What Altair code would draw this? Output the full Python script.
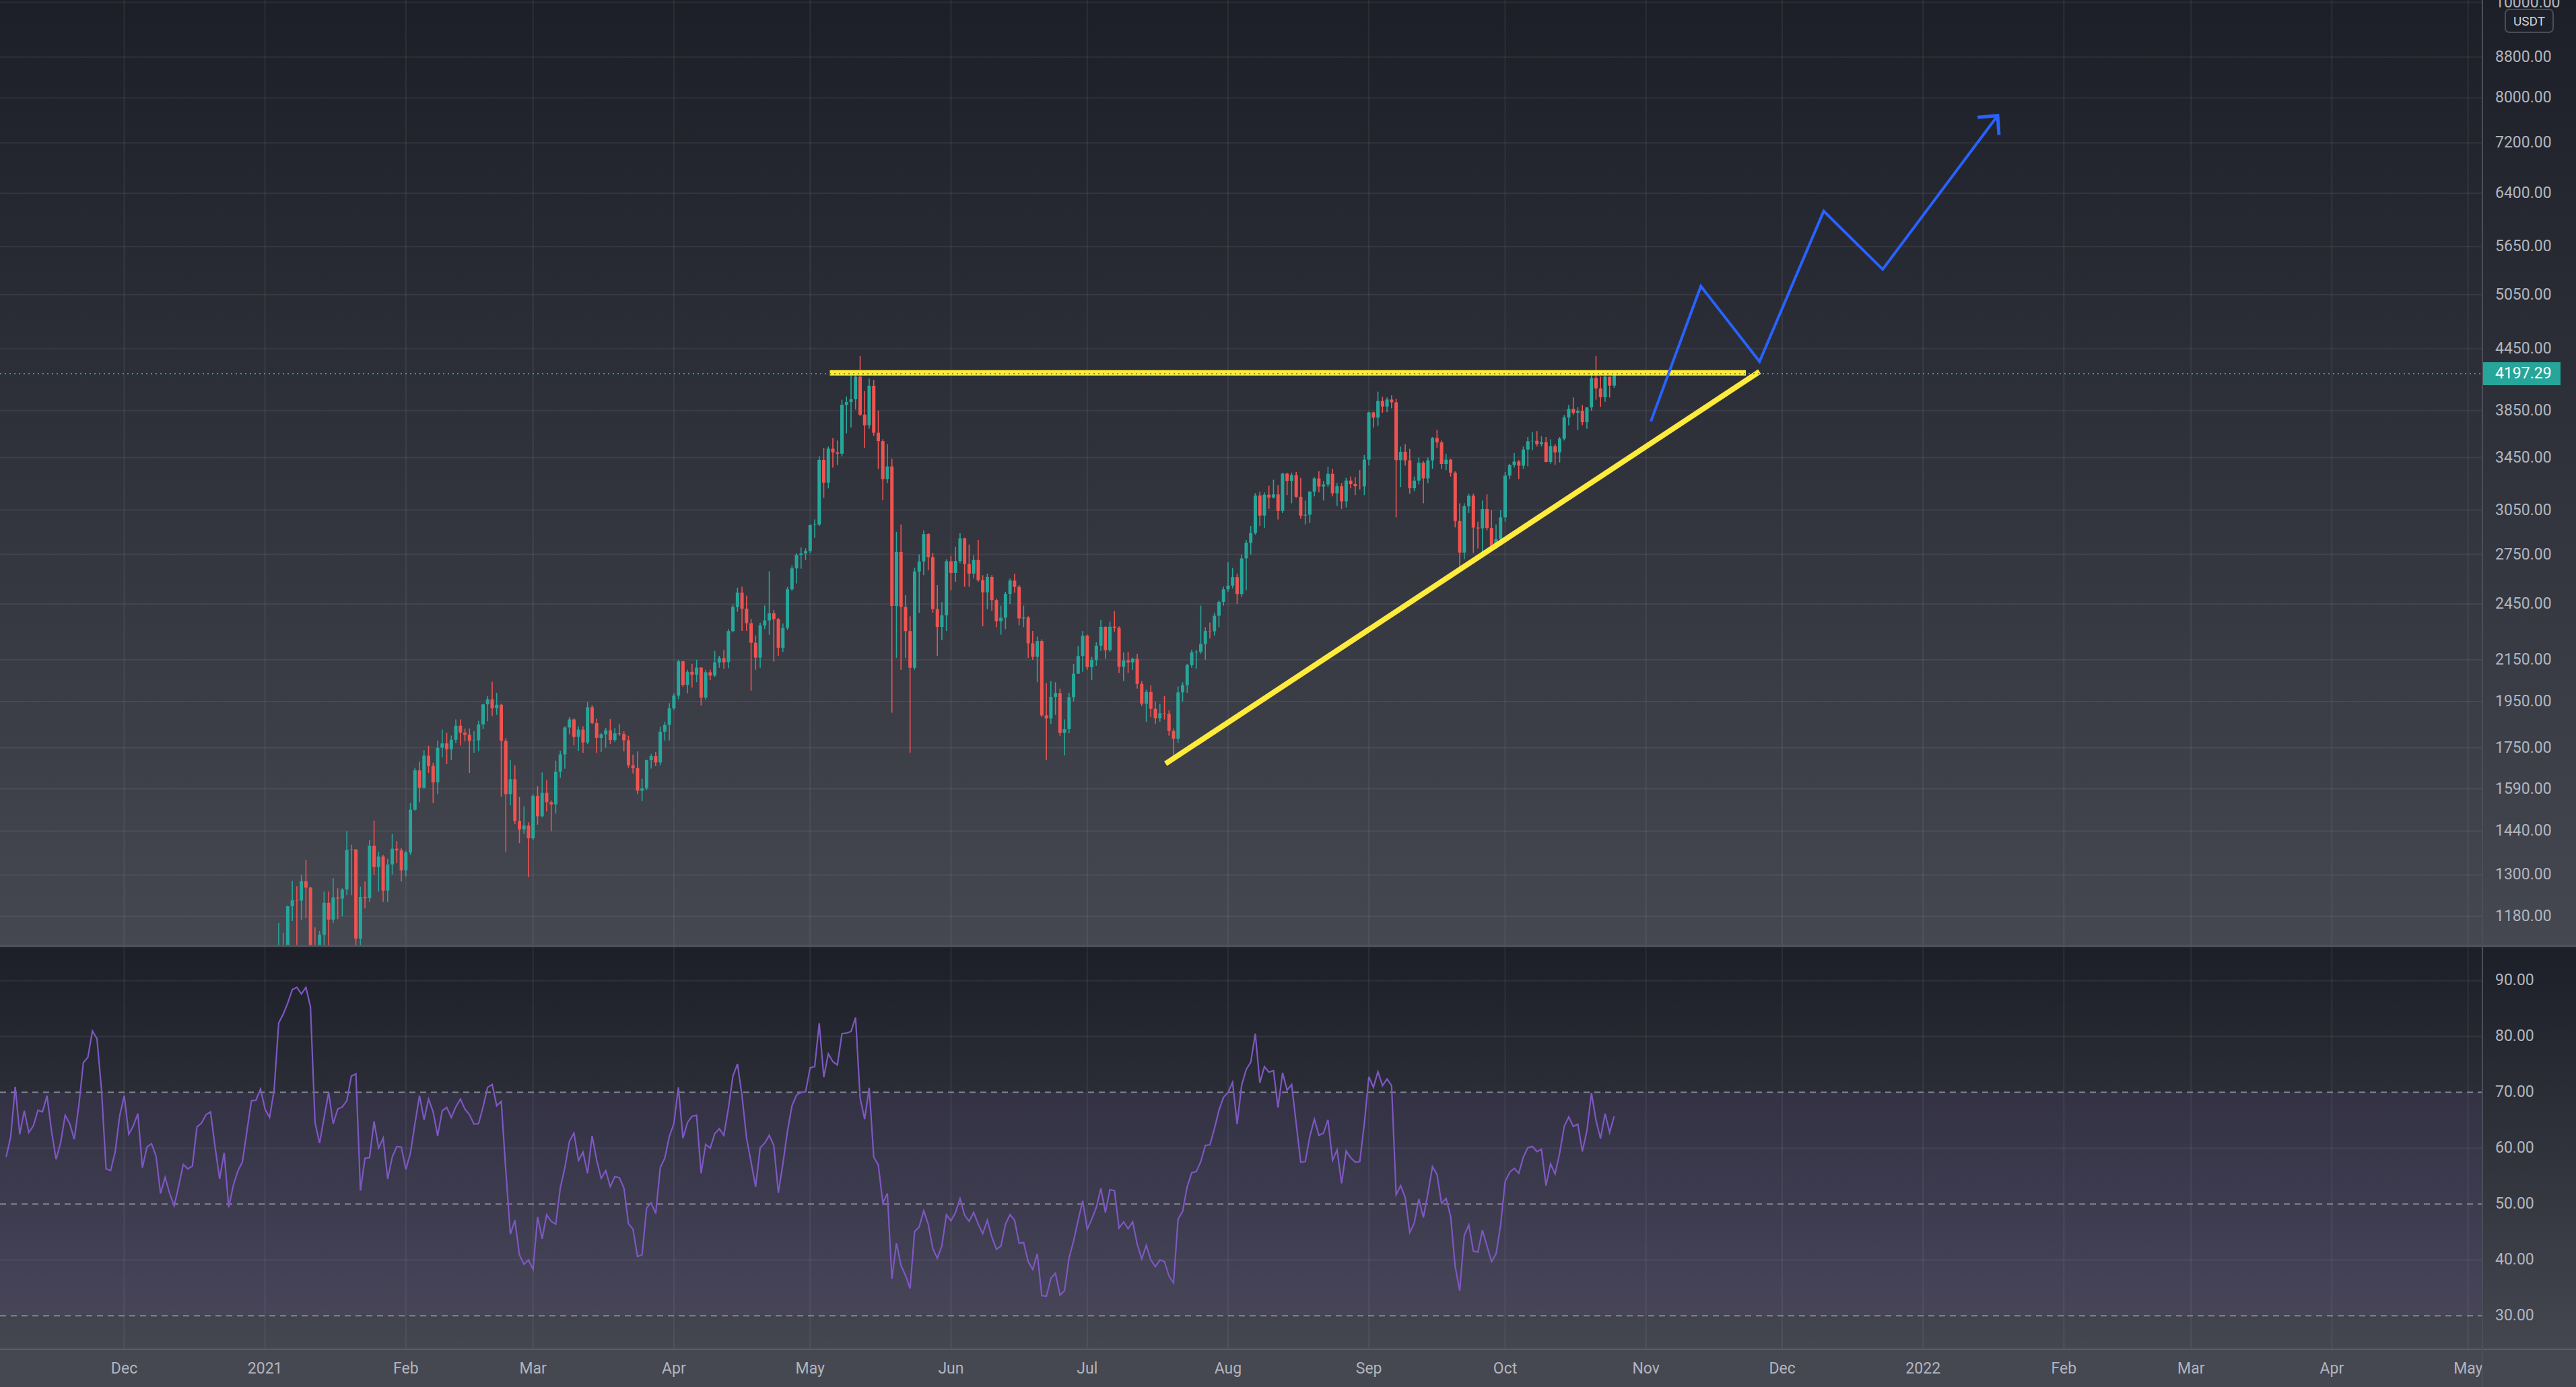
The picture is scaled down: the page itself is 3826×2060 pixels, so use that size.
import altair as alt
import pandas as pd
import numpy as np

# ======================= DATA =======================
quote_unit = "USDT"
first_open = 737.0
candle_start = "2021-01-01"

# daily closes / highs / lows per month (2021)
c_jan = [730, 775, 978, 1041, 1100, 1208, 1225, 1224, 1281, 1262, 1090, 1043, 1130, 1218, 1171, 1233,
         1230, 1256, 1378, 1380, 1120, 1235, 1231, 1392, 1324, 1357, 1253, 1332, 1382, 1377, 1314]
h_jan = [749, 787, 1011, 1162, 1135, 1210, 1282, 1266, 1300, 1347, 1264, 1150, 1140, 1250, 1250, 1290,
         1260, 1260, 1440, 1395, 1380, 1265, 1280, 1410, 1476, 1373, 1362, 1350, 1430, 1407, 1385]
l_jan = [714, 714, 768, 890, 986, 1064, 1167, 1100, 1170, 1175, 915, 1007, 1030, 1100, 1070, 1161,
         1172, 1180, 1240, 1240, 1100, 1030, 1202, 1220, 1300, 1250, 1220, 1220, 1301, 1336, 1280]

c_feb = [1370, 1514, 1660, 1594, 1718, 1677, 1614, 1750, 1768, 1744, 1783, 1843, 1813, 1804, 1779, 1781,
         1848, 1937, 1960, 1919, 1935, 1779, 1570, 1626, 1475, 1446, 1459, 1416]
h_feb = [1375, 1538, 1670, 1695, 1740, 1758, 1690, 1780, 1826, 1812, 1801, 1870, 1870, 1830, 1830, 1820,
         1864, 1940, 1975, 2042, 1990, 1940, 1790, 1700, 1680, 1560, 1526, 1470]
l_feb = [1295, 1362, 1510, 1541, 1590, 1650, 1538, 1570, 1712, 1685, 1700, 1770, 1760, 1776, 1650, 1730,
         1736, 1828, 1862, 1884, 1890, 1560, 1371, 1530, 1464, 1400, 1430, 1293]

c_mar = [1564, 1491, 1575, 1541, 1533, 1655, 1723, 1835, 1870, 1795, 1826, 1772, 1924, 1854, 1791, 1806,
         1823, 1782, 1810, 1807, 1781, 1680, 1669, 1583, 1592, 1700, 1716, 1691, 1817, 1846, 1919]
h_mar = [1570, 1600, 1652, 1622, 1547, 1698, 1738, 1840, 1880, 1875, 1840, 1840, 1947, 1934, 1873, 1811,
         1833, 1872, 1832, 1850, 1820, 1800, 1722, 1735, 1628, 1702, 1725, 1733, 1838, 1860, 1943]
l_mar = [1410, 1462, 1488, 1508, 1440, 1500, 1632, 1666, 1806, 1760, 1737, 1730, 1765, 1849, 1730, 1733,
         1750, 1766, 1774, 1800, 1735, 1670, 1648, 1570, 1545, 1585, 1667, 1676, 1680, 1780, 1780]

c_apr = [1977, 2142, 2027, 2090, 2076, 2111, 1968, 2088, 2072, 2136, 2158, 2138, 2299, 2432, 2515, 2423,
         2342, 2237, 2161, 2330, 2357, 2397, 2364, 2211, 2316, 2535, 2662, 2747, 2757, 2773]
h_apr = [1989, 2150, 2145, 2100, 2130, 2150, 2112, 2100, 2100, 2195, 2170, 2200, 2310, 2447, 2545, 2550,
         2497, 2365, 2275, 2345, 2441, 2644, 2415, 2370, 2340, 2550, 2680, 2760, 2797, 2790]
l_apr = [1912, 1960, 2018, 1988, 2015, 2040, 1932, 1958, 2050, 2064, 2110, 2105, 2108, 2292, 2405, 2300,
         2300, 2000, 2100, 2110, 2310, 2280, 2140, 2170, 2190, 2305, 2525, 2570, 2660, 2715]

c_may = [2945, 2949, 3431, 3253, 3522, 3492, 3481, 3902, 3928, 3953, 4168, 3814, 3720, 4080, 3656, 3585,
         3280, 3379, 2438, 2766, 2433, 2299, 2110, 2643, 2705, 2885, 2733, 2421, 2322, 2385, 2707]
h_may = [2950, 2985, 3460, 3530, 3540, 3610, 3590, 3950, 3980, 4200, 4185, 4372, 4030, 4150, 4135, 3850,
         3600, 3560, 3440, 2900, 2950, 2500, 2380, 2665, 2750, 2910, 2890, 2760, 2560, 2460, 2720]
l_may = [2760, 2860, 2940, 3140, 3210, 3370, 3390, 3460, 3650, 3700, 3860, 3800, 3530, 3690, 3630, 3360,
         3122, 3250, 1900, 2160, 2100, 2160, 1730, 2100, 2400, 2620, 2650, 2400, 2170, 2250, 2300]

c_jun = [2634, 2709, 2856, 2689, 2630, 2715, 2590, 2517, 2609, 2472, 2353, 2372, 2508, 2587, 2549, 2368,
         2373, 2234, 2165, 2246, 1888, 1874, 1971, 1989, 1812, 1828, 1970, 2081, 2169, 2275]
h_jun = [2740, 2800, 2890, 2860, 2815, 2745, 2845, 2620, 2630, 2620, 2480, 2440, 2520, 2600, 2630, 2560,
         2440, 2380, 2300, 2270, 2255, 2035, 2045, 2040, 2010, 1870, 1990, 2130, 2220, 2300]
l_jun = [2530, 2580, 2695, 2550, 2550, 2600, 2580, 2325, 2420, 2410, 2320, 2280, 2310, 2450, 2515, 2330,
         2320, 2160, 2150, 2040, 1880, 1700, 1850, 1890, 1800, 1719, 1810, 1950, 2080, 2090]

c_jul = [2113, 2149, 2222, 2322, 2198, 2323, 2316, 2115, 2146, 2137, 2155, 2032, 1940, 1994, 1917, 1875,
         1897, 1895, 1820, 1787, 1992, 2026, 2123, 2187, 2191, 2231, 2300, 2298, 2383, 2461, 2535]
h_jul = [2280, 2165, 2240, 2360, 2325, 2350, 2410, 2325, 2186, 2190, 2160, 2180, 2045, 2005, 2025, 1950,
         1940, 1975, 1910, 1830, 2020, 2040, 2130, 2200, 2200, 2440, 2320, 2345, 2400, 2470, 2550]
l_jul = [2100, 2050, 2120, 2195, 2155, 2190, 2295, 2085, 2045, 2085, 2100, 2010, 1930, 1860, 1880, 1850,
         1860, 1870, 1800, 1718, 1770, 1950, 1990, 2110, 2105, 2180, 2150, 2260, 2275, 2320, 2440]

c_aug = [2557, 2608, 2507, 2725, 2827, 2891, 3157, 3012, 3163, 3142, 3165, 3045, 3322, 3266, 3310, 3147,
         3012, 3018, 3185, 3285, 3224, 3239, 3321, 3173, 3226, 3114, 3269, 3242, 3226, 3225, 3433]
h_aug = [2700, 2665, 2630, 2750, 2845, 2940, 3175, 3185, 3180, 3230, 3275, 3235, 3330, 3330, 3330, 3335,
         3290, 3120, 3190, 3295, 3340, 3265, 3375, 3360, 3250, 3250, 3290, 3300, 3295, 3350, 3470]
l_aug = [2520, 2540, 2450, 2490, 2530, 2750, 2880, 2940, 2925, 3060, 3135, 2985, 3030, 3160, 3100, 3140,
         2990, 2950, 2960, 3150, 3180, 3120, 3220, 3150, 3080, 3060, 3070, 3210, 3160, 3200, 3160]

c_sep = [3834, 3787, 3938, 3887, 3951, 3926, 3429, 3497, 3427, 3211, 3269, 3408, 3286, 3427, 3611, 3574,
         3399, 3433, 3330, 2974, 2762, 3078, 3155, 2929, 2923, 3059, 2926, 2806, 2850, 3000]
h_sep = [3840, 3840, 4025, 3975, 3970, 3990, 3960, 3540, 3560, 3520, 3300, 3450, 3420, 3450, 3620, 3680,
         3590, 3480, 3440, 3340, 3100, 3100, 3170, 3170, 2970, 3120, 3165, 3050, 2950, 3050]
l_sep = [3385, 3700, 3715, 3830, 3835, 3870, 3000, 3220, 3385, 3170, 3190, 3240, 3100, 3250, 3360, 3530,
         3360, 3350, 3300, 2930, 2650, 2720, 3030, 2760, 2790, 2740, 2910, 2785, 2790, 2840]

c_oct = [3307, 3389, 3418, 3385, 3515, 3584, 3587, 3560, 3575, 3415, 3543, 3492, 3605, 3789, 3865, 3830,
         3849, 3747, 3879, 4155, 4055, 3972, 4167, 4082, 4197.29]
h_oct = [3335, 3400, 3485, 3430, 3540, 3620, 3660, 3670, 3625, 3620, 3600, 3560, 3620, 3810, 3900, 3970,
         3880, 3900, 3880, 4185, 4375, 4170, 4180, 4170, 4222]
l_oct = [2970, 3280, 3370, 3280, 3360, 3380, 3510, 3540, 3540, 3410, 3400, 3390, 3410, 3590, 3720, 3810,
         3680, 3720, 3690, 3850, 3950, 3885, 3930, 3970, 4060]

# RSI(14), daily from 2020-11-05
rsi_start = "2020-11-05"
rsi_nov_mar = [58.4, 62, 71, 62.5, 66.7, 62.8, 64, 66.8, 66.5, 69.4,
               63, 58, 61, 65.9, 64.4, 61.6, 67.6, 75.3, 76.3, 81,
               79.6, 70.4, 56.3, 56, 59.3, 65.8, 69.4, 62.5, 64, 66.2,
               56.5, 60.2, 60.8, 58.6, 51.9, 54.8, 51.9, 49.7, 53.3, 57.1,
               56.3, 56.8, 63.8, 64.5, 66, 66.5, 60.2, 54.5, 59.2, 49.4,
               53.3, 55.9, 57.5, 63, 68.5, 68.6, 70.6, 67, 65.5, 70.4,
               82.4, 84, 86, 88.4, 88.8, 87.6, 88.8, 85.3, 64.6, 60.9,
               65.5, 70, 64.4, 67, 67.4, 68.5, 72.9, 73.3, 52.4, 58.2,
               58.3, 64.8, 60, 61.8, 54.5, 58.4, 60.3, 60.2, 56.2, 59.1,
               64.4, 69.4, 65.1, 68.8, 66.5, 62.2, 66.7, 67.3, 65.5, 67.4,
               68.8, 67, 66, 64.3, 64.4, 67.4, 70.9, 71.4, 67.6, 68.4,
               56, 44.6, 47.1, 40.9, 39.2, 40, 38.3, 47.7, 43.8, 48.1,
               46.9, 46.4]
rsi_mar_jul = [52.9, 56.5, 61.2, 62.7, 57.8, 59.3, 55.5, 62.2, 57.9, 54.6,
               56, 53.1, 54.9, 54.7, 52.9, 46.5, 45.5, 40.6, 40.9, 49.3,
               50.2, 48.3, 56.5, 58.2, 62.1, 64.4, 70.9, 61.8, 64.6, 65.7,
               65.9, 55.5, 60.7, 60, 62.6, 63.5, 62.3, 67.1, 72.9, 75.1,
               69.4, 61.8, 57.5, 53.1, 60.1, 60.9, 62.3, 60.5, 52, 57.2,
               63, 67.6, 69.5, 70, 70.1, 74.4, 74.6, 82.4, 72.7, 76.9,
               75.5, 74.9, 80.5, 80.6, 80.9, 83.4, 69, 65.2, 70.8, 58.4,
               57, 50.2, 51.9, 36.6, 43, 39, 37.2, 34.9, 45.1, 45.9,
               48.8, 46.4, 42, 40.3, 42.5, 48.1, 47, 48.5, 51, 48,
               46.9, 48.5, 46.4, 44.7, 47.1, 44.1, 41.9, 42.5, 46.4, 48.1,
               47.1, 43, 43.1, 39.7, 38.3, 41.1, 33.6, 33.5, 36.7, 37.6,
               33.7, 34.5, 40.4, 43.4, 47.1, 50.6, 45.5, 47.3]
rsi_jul_oct = [49.4, 52.8, 48.5, 52.6, 52.4, 45.7, 46.8, 45.6, 46.8, 42.8,
               40.2, 42.6, 40, 38.8, 40, 39.7, 37.1, 35.9, 47.3, 48.7,
               53.1, 55.6, 55.8, 57.6, 60.5, 60.6, 63.5, 66.8, 69.1, 70,
               71.8, 64.3, 71.3, 74.1, 75.4, 80.5, 71.7, 74.6, 73.6, 73.9,
               67.3, 73.5, 70.4, 71.4, 64.4, 57.5, 57.6, 62.1, 65.2, 62.3,
               62.7, 65.1, 57.8, 59.7, 53.7, 59.5, 58.3, 57.5, 57.6, 64.4,
               72.8, 70.9, 73.7, 71.2, 72.4, 71.2, 51.7, 53.3, 51.2, 44.9,
               46.6, 50.9, 47.6, 51.9, 56.7, 55.3, 50.1, 51, 47.8, 38.8,
               34.5, 44.4, 46.3, 41.6, 41.4, 45.3, 42.5, 39.7, 41.1, 46.2,
               54, 55.7, 56.4, 55.5, 58.4, 60.1, 60.3, 59.4, 59.8, 53.3,
               57.2, 55.4, 59.1, 63.9, 65.6, 63.9, 64.3, 59.4, 63.1, 69.9,
               65, 61.7, 66.2, 62.8, 65.7]

# axis ticks / labels
price_ticks = [10000, 8800, 8000, 7200, 6400, 5650, 5050, 4450, 3850, 3450,
               3050, 2750, 2450, 2150, 1950, 1750, 1590, 1440, 1300, 1180]
rsi_ticks = [90, 80, 70, 60, 50, 40, 30]
rsi_grid_levels = [90, 80, 60, 40]
rsi_levels = [70, 50, 30]
month_ticks = ["2020-12-01", "2021-01-01", "2021-02-01", "2021-03-01", "2021-04-01", "2021-05-01",
               "2021-06-01", "2021-07-01", "2021-08-01", "2021-09-01", "2021-10-01", "2021-11-01",
               "2021-12-01", "2022-01-01", "2022-02-01", "2022-03-01", "2022-04-01", "2022-05-01"]
month_labels = ["Dec", "2021", "Feb", "Mar", "Apr", "May", "Jun", "Jul", "Aug", "Sep", "Oct", "Nov",
                "Dec", "2022", "Feb", "Mar", "Apr", "May"]
last_price = 4197.29

# drawings
res_dates = ["2021-05-05T08:00:00Z", "2021-11-23T00:00:00Z"]
res_prices = [4205, 4205]
sup_dates = ["2021-07-18T06:00:00Z", "2021-11-26T00:00:00Z"]
sup_prices = [1686, 4218]
proj_dates = ["2021-11-02T02:00:00Z", "2021-11-13T02:00:00Z", "2021-11-26T00:00:00Z",
              "2021-12-10T03:00:00Z", "2021-12-23T03:00:00Z", "2022-01-17T10:00:00Z"]
proj_prices = [3754, 5151, 4318, 6138, 5357, 7674]
arrow_dates = ["2022-01-13T00:00:00Z", "2022-01-17T10:00:00Z", "2022-01-17T17:00:00Z"]
arrow_prices = [7643, 7674, 7336]

# ======================= LAYOUT / STYLE =======================
TOTAL_W, TOTAL_H = 3826, 2060
W = 3687          # plot width (price axis to the right)
Y_MAIN = 1405     # bottom of price pane
H = 2004          # bottom of RSI pane
FONT = "Roboto"
FS = 23
LABEL_C = "#b2b5be"
GREEN, RED = "#26a69a", "#ef5350"
YELLOW, BLUE, PURPLE = "#ffeb3b", "#2962ff", "#7e57c2"
GRID_C = "#ffffff"
GRID_OP = 0.065


def ms(s):
    return int(pd.Timestamp(s).value // 10**6)


xscale = alt.Scale(type="utc", domain=[ms("2020-11-04T09:24:00Z"), ms("2022-05-03T09:36:00Z")], nice=False)
pscale = alt.Scale(type="log", domain=[1100.9, 10056.8], range=[Y_MAIN, 0], clamp=True, nice=False)
rscale = alt.Scale(type="linear", domain=[24.0, 96.2], range=[H, Y_MAIN], zero=False, nice=False)


def X(f="date"):
    return alt.X(f"{f}:T", scale=xscale, axis=None)


def PY(f="price"):
    return alt.Y(f"{f}:Q", scale=pscale, axis=None)


def RY(f="rsi"):
    return alt.Y(f"{f}:Q", scale=rscale, axis=None)


one = pd.DataFrame({"k": [0]})


def grad(top, bot):
    return alt.LinearGradient(gradient="linear", x1=0, x2=0, y1=0, y2=1,
                              stops=[alt.GradientStop(color=top, offset=0),
                                     alt.GradientStop(color=bot, offset=1)])


def rect(x0, x1, y0, y1, color):
    return alt.Chart(one).mark_rect(color=color).encode(
        x=alt.value(x0), x2=alt.value(x1), y=alt.value(y0), y2=alt.value(y1))


# ======================= FRAMES =======================
close = c_jan + c_feb + c_mar + c_apr + c_may + c_jun + c_jul + c_aug + c_sep + c_oct
high = h_jan + h_feb + h_mar + h_apr + h_may + h_jun + h_jul + h_aug + h_sep + h_oct
low = l_jan + l_feb + l_mar + l_apr + l_may + l_jun + l_jul + l_aug + l_sep + l_oct
assert len(close) == len(high) == len(low)
opens = [first_open] + close[:-1]
cdates = pd.date_range(candle_start, periods=len(close), freq="D", tz="UTC")
cdf = pd.DataFrame({"date": cdates.strftime("%Y-%m-%dT%H:%M:%SZ"), "open": opens,
                    "high": high, "low": low, "close": close})
cdf["color"] = np.where(cdf["close"] >= cdf["open"], GREEN, RED)

rsi = rsi_nov_mar + rsi_mar_jul + rsi_jul_oct
rdates = pd.date_range(rsi_start, periods=len(rsi), freq="D", tz="UTC")
rdf = pd.DataFrame({"date": rdates.strftime("%Y-%m-%dT%H:%M:%SZ"), "rsi": rsi})

mdf = pd.DataFrame({"date": [d + "T00:00:00Z" for d in month_ticks], "label": month_labels})
pdf = pd.DataFrame({"price": price_ticks})
rtdf = pd.DataFrame({"rsi": rsi_ticks})
rgdf = pd.DataFrame({"rsi": rsi_grid_levels})
rldf = pd.DataFrame({"rsi": rsi_levels})
rband = pd.DataFrame({"top": [max(rsi_levels)], "bot": [min(rsi_levels)]})
lpdf = pd.DataFrame({"price": [last_price], "txt": [f"{last_price:.2f}"]})
res_df = pd.DataFrame({"date": res_dates, "price": res_prices})
sup_df = pd.DataFrame({"date": sup_dates, "price": sup_prices})
proj_df = pd.DataFrame({"date": proj_dates, "price": proj_prices, "i": range(len(proj_dates))})
arr_df = pd.DataFrame({"date": arrow_dates, "price": arrow_prices, "i": range(len(arrow_dates))})

# ======================= LAYERS =======================
layers = []
# backgrounds
layers.append(rect(0, TOTAL_W, 0, Y_MAIN, grad("#1c1f27", "#454751")))
layers.append(rect(0, TOTAL_W, Y_MAIN, H, grad("#1c1f27", "#444650")))
layers.append(rect(0, TOTAL_W, H, TOTAL_H, "#454751"))

# grids
layers.append(alt.Chart(mdf).mark_rule(color=GRID_C, opacity=GRID_OP, strokeWidth=2).encode(
    x=X(), y=alt.value(0), y2=alt.value(H)))
layers.append(alt.Chart(pdf).mark_rule(color=GRID_C, opacity=GRID_OP, strokeWidth=2).encode(
    y=PY(), x=alt.value(0), x2=alt.value(W)))
layers.append(alt.Chart(rgdf).mark_rule(color=GRID_C, opacity=GRID_OP, strokeWidth=2).encode(
    y=RY(), x=alt.value(0), x2=alt.value(W)))

# RSI band and levels
layers.append(alt.Chart(rband).mark_rect(color=PURPLE, opacity=0.11).encode(
    y=RY("top"), y2="bot:Q", x=alt.value(0), x2=alt.value(W)))
layers.append(alt.Chart(rldf).mark_rule(color="#9a9da6", opacity=0.75, strokeWidth=2,
                                        strokeDash=[9, 7]).encode(
    y=RY(), x=alt.value(0), x2=alt.value(W)))

# candles
layers.append(alt.Chart(cdf).mark_rule(strokeWidth=1.6).encode(
    x=X(), y=PY("low"), y2="high:Q", color=alt.Color("color:N", scale=None)))
layers.append(alt.Chart(cdf).mark_bar(size=5).encode(
    x=X(), y=PY("open"), y2="close:Q", color=alt.Color("color:N", scale=None)))

# drawings
layers.append(alt.Chart(res_df).mark_line(color=YELLOW, strokeWidth=8, strokeCap="butt").encode(
    x=X(), y=PY()))
layers.append(alt.Chart(sup_df).mark_line(color=YELLOW, strokeWidth=8, strokeCap="butt").encode(
    x=X(), y=PY()))
layers.append(alt.Chart(proj_df).mark_line(color=BLUE, strokeWidth=4, strokeJoin="miter").encode(
    x=X(), y=PY(), order="i:Q"))
layers.append(alt.Chart(arr_df).mark_line(color=BLUE, strokeWidth=5, strokeJoin="miter").encode(
    x=X(), y=PY(), order="i:Q"))

# RSI line
layers.append(alt.Chart(rdf).mark_line(color=PURPLE, strokeWidth=2.2).encode(x=X(), y=RY()))

# last price dotted line
layers.append(alt.Chart(lpdf).mark_rule(color=GREEN, strokeWidth=2, strokeDash=[2, 5]).encode(
    y=PY(), x=alt.value(0), x2=alt.value(W)))

# time axis labels
layers.append(alt.Chart(mdf).mark_text(font=FONT, fontSize=FS, color=LABEL_C, align="center",
                                       baseline="middle").encode(
    x=X(), y=alt.value(2033), text="label:N"))
layers.append(rect(W, TOTAL_W, H, TOTAL_H, "#454751"))

# separators
layers.append(alt.Chart(one).mark_rule(color="#52555f", strokeWidth=3).encode(
    x=alt.value(0), x2=alt.value(TOTAL_W), y=alt.value(Y_MAIN)))
layers.append(alt.Chart(one).mark_rule(color="#5b5e69", strokeWidth=2).encode(
    x=alt.value(0), x2=alt.value(TOTAL_W), y=alt.value(H)))
layers.append(alt.Chart(one).mark_rule(color="#4c4f5a", strokeWidth=2).encode(
    x=alt.value(W), y=alt.value(0), y2=alt.value(TOTAL_H)))

# price axis labels
layers.append(alt.Chart(pdf).mark_text(font=FONT, fontSize=FS, color=LABEL_C, align="left",
                                       baseline="middle").encode(
    y=PY(), x=alt.value(3706), text=alt.Text("price:Q", format=".2f")))
# RSI axis labels
layers.append(alt.Chart(rtdf).mark_text(font=FONT, fontSize=FS, color=LABEL_C, align="left",
                                        baseline="middle").encode(
    y=RY(), x=alt.value(3706), text=alt.Text("rsi:Q", format=".2f")))

# last price tag
layers.append(alt.Chart(lpdf).mark_rule(color=GREEN, strokeWidth=34, strokeCap="butt").encode(
    y=PY(), x=alt.value(W + 1), x2=alt.value(3803)))
layers.append(alt.Chart(lpdf).mark_text(font=FONT, fontSize=FS, color="#ffffff", align="left",
                                        baseline="middle").encode(
    y=PY(), x=alt.value(3706), text="txt:N"))

# quote unit badge
layers.append(alt.Chart(one).mark_rect(fill="#1d2029", stroke="#4a4d58", strokeWidth=2,
                                       cornerRadius=6).encode(
    x=alt.value(3721), x2=alt.value(3792), y=alt.value(14), y2=alt.value(48)))
layers.append(alt.Chart(pd.DataFrame({"t": [quote_unit]})).mark_text(
    font=FONT, fontSize=19, color="#d1d4dc", align="center", baseline="middle").encode(
    x=alt.value(3756.5), y=alt.value(31.5), text="t:N"))

chart = alt.layer(*layers).resolve_scale(y="independent").properties(
    width=W, height=H,
    padding={"left": 0, "top": 0, "right": TOTAL_W - W, "bottom": TOTAL_H - H},
    autosize="none",
    background="#1c1f27",
).configure_view(stroke=None)

chart.save("out.html", embed_options={"renderer": "svg", "actions": False})
